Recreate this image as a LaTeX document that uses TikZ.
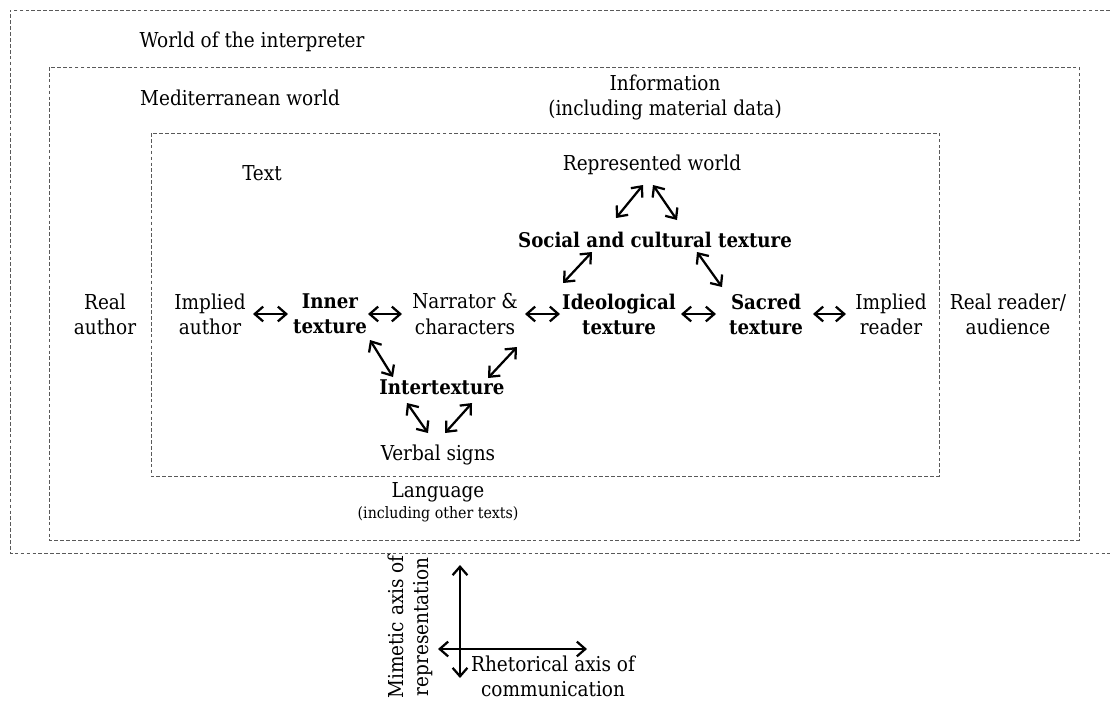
\documentclass[tikz,border=0pt]{standalone}
\usepackage{fontspec}
\setmainfont{DejaVu Serif Condensed}
\usetikzlibrary{arrows.meta,calc}
\tikzset{
  frame/.style={draw=black!65,line width=0.7pt,dash pattern=on 2.6pt off 1.6pt},
  lbl/.style={font=\fontsize{14.6}{17.8}\selectfont,align=center,inner sep=1pt},
  tex/.style={lbl,font=\fontsize{14.4}{17.8}\selectfont\bfseries},
  small/.style={lbl,font=\fontsize{11.2}{13}\selectfont},
  dbl/.style={{Straight Barb[length=6pt,width=10.5pt]}-{Straight Barb[length=6pt,width=10.5pt]},line width=1.6pt},
}

\begin{document}
\begin{tikzpicture}[x=0.025cm,y=-0.025cm]
\useasboundingbox (0,0) rectangle (1110,700);
\draw[frame] (1110,10) -- (10,10) -- (10,553) -- (1110,553);
\draw[frame] (49,67) rectangle (1079,540);
\draw[frame] (151,133) rectangle (939,476);

\node[lbl] (world) at (252,42) {World of the interpreter};
\node[lbl] (medit) at (240,98) {Mediterranean world};
\node[lbl] (info) at (665,97) {Information\\(including material data)};
\node[lbl] (text) at (262,173) {Text};
\node[lbl] (repr) at (652,165) {Represented world};
\node[tex] (social) at (655,240) {Social and cultural texture};
\node[lbl] (rauthor) at (105,314) {Real\\author};
\node[lbl] (iauthor) at (210,314) {Implied\\author};
\node[tex] (inner) at (330,314) {Inner\\texture};
\node[lbl] (narr) at (465,314) {Narrator \&\\characters};
\node[tex] (ideo) at (619,314) {Ideological\\texture};
\node[tex] (sacred) at (766,314) {Sacred\\texture};
\node[lbl] (ireader) at (891,314) {Implied\\reader};
\node[lbl] (rreader) at (1008,314) {Real reader/\\audience};
\node[tex] (inter) at (442,387) {Intertexture};
\node[lbl] (verbal) at (438,455) {Verbal signs};
\node[lbl] (lang) at (438,492) {Language};
\node[small] (other) at (438,514) {(including other texts)};
\node[lbl,rotate=90] (mimetic) at (410,627) {Mimetic axis of\\representation};
\node[lbl] (rhet) at (553,676) {Rhetorical axis of\\communication};
\coordinate (axo) at (460,649);

\draw[dbl] ($(repr)+(-9,20)$) -- ($(social)+(-39,-22)$);
\draw[dbl] ($(repr)+(1,20)$) -- ($(social)+(22,-20)$);
\draw[dbl] ($(social)+(-63,12)$) -- ($(ideo)+(-56,-31)$);
\draw[dbl] ($(social)+(42,12)$) -- ($(sacred)+(-44,-27)$);
\draw[dbl] ($(iauthor)+(43,0)$) -- ($(inner)+(-42,0)$);
\draw[dbl] ($(inner)+(38,0)$) -- ($(narr)+(-63,0)$);
\draw[dbl] ($(narr)+(60,0)$) -- ($(ideo)+(-59,0)$);
\draw[dbl] ($(ideo)+(62,0)$) -- ($(sacred)+(-50,0)$);
\draw[dbl] ($(sacred)+(47,0)$) -- ($(ireader)+(-45,0)$);
\draw[dbl] ($(inner)+(40,26)$) -- ($(inter)+(-49,-10)$);
\draw[dbl] ($(narr)+(52,33)$) -- ($(inter)+(46,-9)$);
\draw[dbl] ($(inter)+(-35,16)$) -- ($(verbal)+(-10,-22)$);
\draw[dbl] ($(inter)+(30,16)$) -- ($(verbal)+(7,-22)$);
\draw[dbl] ($(axo)+(0,-84)$) -- ($(axo)+(0,29)$);
\draw[dbl] ($(axo)+(-22,0)$) -- ($(axo)+(127,0)$);
\end{tikzpicture}
\end{document}
